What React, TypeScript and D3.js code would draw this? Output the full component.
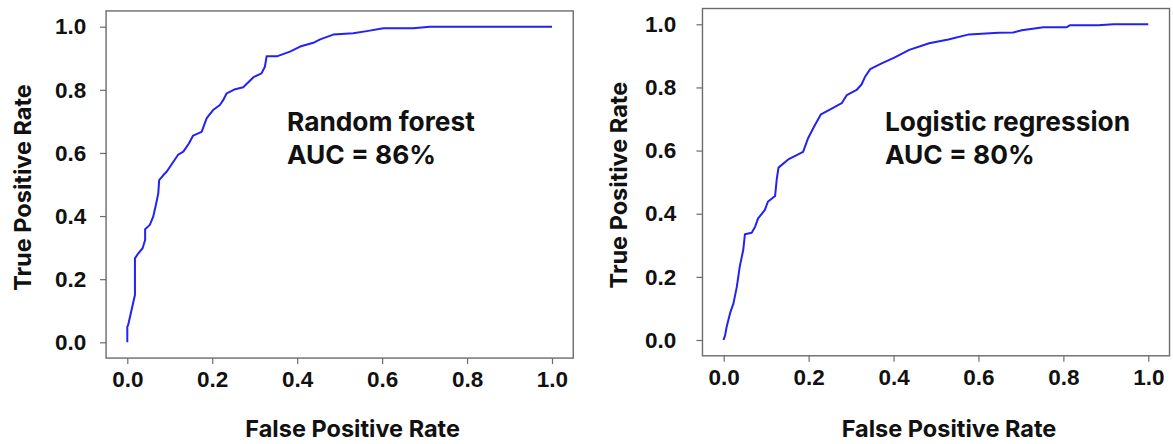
import React, { useEffect, useRef } from "react";
import * as d3 from "d3";

// ROC points: [false positive rate, true positive rate]
const forestFpr = [0, 0, 0.002, 0.018, 0.018, 0.026, 0.036, 0.042, 0.042, 0.053, 0.061, 0.068, 0.073, 0.075, 0.085, 0.093, 0.12, 0.132, 0.145, 0.155, 0.175, 0.187, 0.202, 0.218, 0.226, 0.234, 0.254, 0.273, 0.297, 0.316, 0.324, 0.328, 0.352, 0.383, 0.407, 0.438, 0.454, 0.485, 0.532, 0.564, 0.603, 0.673, 0.713, 1];
const forestTpr = [0, 0.049, 0.055, 0.15, 0.266, 0.282, 0.298, 0.324, 0.358, 0.372, 0.398, 0.44, 0.472, 0.514, 0.53, 0.541, 0.595, 0.604, 0.63, 0.655, 0.667, 0.71, 0.736, 0.752, 0.768, 0.789, 0.802, 0.808, 0.84, 0.852, 0.873, 0.906, 0.906, 0.921, 0.937, 0.949, 0.96, 0.975, 0.979, 0.986, 0.995, 0.995, 1, 1];

const logitFpr = [0, 0, 0.003, 0.007, 0.015, 0.023, 0.031, 0.038, 0.046, 0.05, 0.066, 0.074, 0.081, 0.097, 0.104, 0.121, 0.125, 0.129, 0.152, 0.187, 0.199, 0.213, 0.229, 0.25, 0.278, 0.29, 0.313, 0.325, 0.333, 0.345, 0.372, 0.403, 0.437, 0.484, 0.529, 0.578, 0.647, 0.682, 0.702, 0.753, 0.808, 0.816, 0.882, 0.918, 1];
const logitTpr = [0, 0.002, 0.013, 0.042, 0.085, 0.116, 0.169, 0.234, 0.285, 0.335, 0.34, 0.359, 0.385, 0.412, 0.438, 0.456, 0.51, 0.546, 0.572, 0.596, 0.64, 0.676, 0.715, 0.73, 0.75, 0.776, 0.792, 0.81, 0.834, 0.858, 0.876, 0.895, 0.919, 0.94, 0.952, 0.968, 0.973, 0.974, 0.981, 0.991, 0.991, 0.997, 0.997, 1, 1];

const ticks = [0, 0.2, 0.4, 0.6, 0.8, 1.0];
const modelNames = ["Random forest", "Logistic regression"];
const aucLabels = ["AUC = 86%", "AUC = 80%"];

const titleFont = "Inter, 'Noto Sans', sans-serif";
const tickFont = "'Liberation Sans', Arial, sans-serif";

const RocCharts = () => {
  const svgRef = useRef<SVGSVGElement>(null);

  useEffect(() => {
    document.body.style.margin = "0";
    const svg = d3.select(svgRef.current);
    svg.selectAll("*").remove();

    const panels = [
      { fpr: forestFpr, tpr: forestTpr, x0: 127.3, x1: 552, y0: 342.3, y1: 26.7, labelX: 55, yTitleX: 23, noteX: 287 },
      { fpr: logitFpr, tpr: logitTpr, x0: 723.7, x1: 1148.3, y0: 340, y1: 24.3, labelX: 645, yTitleX: 619, noteX: 885 },
    ];

    panels.forEach((p, i) => {
      const x = d3.scaleLinear().domain([0, 1]).range([p.x0, p.x1]);
      const y = d3.scaleLinear().domain([0, 1]).range([p.y0, p.y1]);
      const g = svg.append("g");

      // frame with 5% padding like matplotlib
      const [fx0, fx1] = [x(-0.05), x(1.05)];
      const [fy0, fy1] = [y(1.05), y(-0.05)];
      g.append("rect")
        .attr("x", fx0).attr("y", fy0)
        .attr("width", fx1 - fx0).attr("height", fy1 - fy0)
        .attr("fill", "none").attr("stroke", "#6b6b6b").attr("stroke-width", 1.4);

      const xAxis = g.append("g")
        .attr("transform", `translate(0,${fy1})`)
        .call(d3.axisBottom(x).tickValues(ticks).tickSize(6).tickFormat(d3.format(".1f")));
      const yAxis = g.append("g")
        .attr("transform", `translate(${fx0},0)`)
        .call(d3.axisLeft(y).tickValues(ticks).tickSize(6).tickFormat(d3.format(".1f")));

      [xAxis, yAxis].forEach(a => {
        a.select(".domain").remove();
        a.selectAll("line").attr("stroke", "#6b6b6b").attr("stroke-width", 1.2);
        a.selectAll("text")
          .attr("fill", "#111")
          .attr("font-family", tickFont)
          .attr("font-weight", 700)
          .attr("font-size", 22.5);
      });
      xAxis.selectAll("text").attr("y", 13);
      yAxis.selectAll("text")
        .attr("text-anchor", "start")
        .attr("x", p.labelX - fx0);

      // ROC curve
      const pts = p.fpr.map((f, k) => [f, p.tpr[k]] as [number, number]);
      g.append("path")
        .datum(pts)
        .attr("fill", "none")
        .attr("stroke", "#2222f2")
        .attr("stroke-width", 2)
        .attr("stroke-linejoin", "round")
        .attr("d", d3.line<[number, number]>().x(d => x(d[0])).y(d => y(d[1])));

      // axis titles
      g.append("text")
        .attr("x", (fx0 + fx1) / 2 + 13).attr("y", 437)
        .attr("text-anchor", "middle")
        .attr("font-family", titleFont).attr("font-weight", 700).attr("font-size", 23.5)
        .attr("fill", "#111")
        .text("False Positive Rate");
      g.append("text")
        .attr("transform", `translate(${p.yTitleX + 8},${(fy0 + fy1) / 2 + 3}) rotate(-90)`)
        .attr("text-anchor", "middle")
        .attr("font-family", titleFont).attr("font-weight", 700).attr("font-size", 23.5)
        .attr("fill", "#111")
        .text("True Positive Rate");

      // model annotation
      const note = g.append("text")
        .attr("font-family", titleFont).attr("font-weight", 700).attr("font-size", 26.3)
        .attr("fill", "#111");
      note.append("tspan").attr("x", p.noteX).attr("y", 131).text(modelNames[i]);
      note.append("tspan").attr("x", p.noteX).attr("y", 164).text(aucLabels[i]);
    });
  }, []);

  return <svg ref={svgRef} width={1173} height={444} style={{ display: "block", background: "#fff" }}></svg>;
};

export default function App() {
  return <RocCharts />;
}
